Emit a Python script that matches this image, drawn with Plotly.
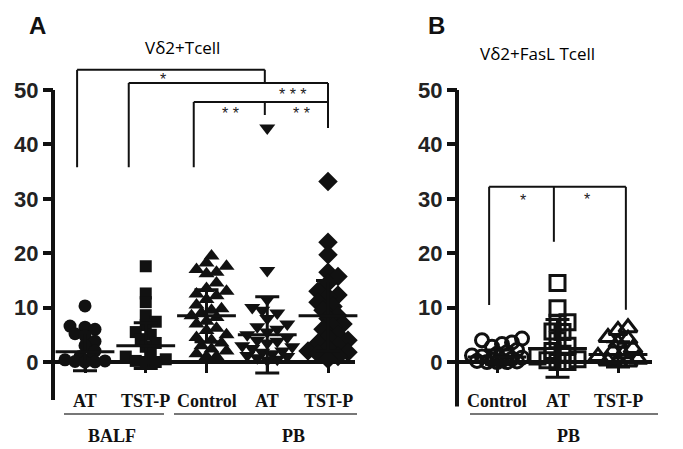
import numpy as np
import plotly.graph_objects as go

W, H = 683, 449

# ---------------- data ----------------
cats_a = ["AT", "TST-P", "Control", "AT", "TST-P"]
cats_b = ["Control", "AT", "TST-P"]
group_labels_a = ["BALF", "PB"]
group_labels_b = ["PB"]

a_balf_at = [10.3, 6.6, 6.4, 6.0, 5.2, 4.8, 3.8, 3.0, 2.0, 1.0, 0.6, 0.4, 0.2, 0.1, 0.0, 0.0]
a_balf_tstp = [17.6, 12.6, 11.0, 8.6, 7.4, 6.8, 5.5, 5.0, 4.2, 3.5, 2.8, 1.5, 1.0, 0.5, 0.2, 0.0, 0.0]
a_pb_control = [19.5, 18.2, 17.6, 17.0, 16.5, 16.2, 14.5, 13.5, 13.0, 12.5, 12.2, 11.5, 10.5, 9.8,
                9.5, 9.0, 8.5, 8.2, 7.5, 7.0, 6.2, 5.8, 5.0, 4.5, 4.0, 3.5, 3.0, 2.4, 2.0, 1.5, 1.0, 1.0]
a_pb_at = [43.0, 16.8, 11.5, 10.0, 9.5, 9.0, 8.0, 7.0, 6.5, 6.0, 5.5, 5.0, 4.5, 4.0, 3.8, 3.5,
           3.0, 2.8, 2.5, 2.0, 1.8, 1.5, 1.2, 1.0, 0.8, 0.5, 0.3]
a_pb_tstp = [33.2, 22.0, 19.7, 16.5, 15.7, 14.5, 13.0, 12.3, 12.0, 11.0, 10.2, 9.5, 8.5, 8.0, 7.0,
             6.5, 6.0, 5.0, 4.5, 4.0, 3.5, 3.0, 2.5, 2.0, 1.8, 1.5, 1.0, 0.5]
a_means = [1.9, 3.0, 8.5, 5.0, 8.5]
a_sds = [3.5, 4.2, 4.8, 7.0, 6.5]

b_control = [4.3, 4.0, 3.6, 3.3, 2.8, 2.2, 1.8, 1.5, 1.2, 1.0, 0.8, 0.6, 0.4, 0.3, 0.2, 0.1, 0.0, 0.0, 0.0]
b_at = [14.5, 9.9, 7.3, 7.2, 5.6, 5.5, 4.0, 3.0, 2.0, 1.5, 1.0, 0.5, 0.3, 0.0, 0.0]
b_tstp = [6.3, 5.8, 4.5, 4.2, 3.5, 2.5, 2.0, 1.5, 1.0, 0.5, 0.2, 0.0, 0.0]
b_means = [0.9, 2.5, 1.4]
b_sds = [1.3, 5.3, 2.3]

y_ticks = [0, 10, 20, 30, 40, 50]

# significance brackets: (x_left, x_right, height, left_leg_bottom, right_leg_bottom)
brackets_a = [(-0.13, 2.96, 53.7, 35.8, 51.3),
              (0.72, 4.0, 51.3, 35.8, 43.0),
              (1.79, 4.0, 47.8, 35.8, 43.0)]
mid_legs_a = [(2.96, 47.8, 45.4)]
# (label, x, y, vertical anchor)
stars_a = [("*", 1.28, 51.9, "middle"), ("* * *", 3.43, 47.4, "bottom"),
           ("* *", 2.40, 47.4, "top"), ("* *", 3.57, 47.4, "top")]

brackets_b = [(-0.13, 2.13, 32.2, 10.5, 9.6)]
mid_legs_b = [(0.94, 32.2, 22.1)]
stars_b = [("*", 0.43, 29.6, "middle"), ("*", 1.49, 29.8, "middle")]

# ---------------- layout constants (pixels) ----------------
Y0_PX, Y50_PX = 362.0, 90.0
PX_PER_Y = (Y0_PX - Y50_PX) / 50.0
y_lo = -(H - Y0_PX) / PX_PER_Y
y_hi = Y0_PX / PX_PER_Y

A_C0, A_STEP, A_AXIS, A_END = 85.0, 60.75, 53.0, 355.0
B_C0, B_STEP, B_AXIS, B_END = 497.0, 60.5, 457.0, 652.0
SPLIT = 0.6


def xa(px):
    return (px - A_C0) / A_STEP


def xb(px):
    return (px - B_C0) / B_STEP


def swarm(values, step_x, min_d=8.5, step_px=5.0, kmax=5):
    """Simple beeswarm offsets (in category units) so markers do not pile up."""
    placed = []
    offs = [0.0] * len(values)
    order = np.argsort(values)
    for idx in order:
        vy = values[idx] * PX_PER_Y
        best, best_d, done = 0.0, -1.0, False
        for k in range(0, kmax + 1):
            for sgn in ([1] if k == 0 else [1, -1]):
                ox = sgn * k * step_px
                d = min([np.hypot(ox - px, vy - py) for px, py in placed] or [1e9])
                if d >= min_d:
                    best, done = ox, True
                    break
                if d > best_d:
                    best_d, best = d, ox
            if done:
                break
        placed.append((best, vy))
        offs[idx] = best / step_x
    return offs


fig = go.Figure()

# ---------------- panel A ----------------
a_series = [a_balf_at, a_balf_tstp, a_pb_control, a_pb_at, a_pb_tstp]
a_symbols = ["circle", "square", "triangle-up", "triangle-down", "diamond"]
a_sizes = [13, 12, 14, 14, 15]
for i, vals in enumerate(a_series):
    offs = swarm(vals, A_STEP)
    fig.add_trace(go.Scatter(
        x=[i + o for o in offs], y=vals, mode="markers", xaxis="x", yaxis="y",
        marker=dict(symbol=a_symbols[i], size=a_sizes[i], color="#111111",
                    line=dict(width=0)),
        showlegend=False, hoverinfo="skip"))
fig.add_trace(go.Scatter(
    x=list(range(len(cats_a))), y=a_means, mode="markers", xaxis="x", yaxis="y",
    marker=dict(symbol="line-ew", size=42, color="#111111", line=dict(width=3, color="#111111")),
    error_y=dict(type="data", array=a_sds, width=12, thickness=3, color="#111111"),
    showlegend=False, hoverinfo="skip"))

# ---------------- panel B ----------------
b_series = [b_control, b_at, b_tstp]
b_symbols = ["circle-open", "square-open", "triangle-up-open"]
b_sizes = [13, 15, 16]
for i, vals in enumerate(b_series):
    offs = swarm(vals, B_STEP)
    fig.add_trace(go.Scatter(
        x=[i + o for o in offs], y=vals, mode="markers", xaxis="x2", yaxis="y2",
        marker=dict(symbol=b_symbols[i], size=b_sizes[i], color="#111111",
                    line=dict(width=3, color="#111111")),
        showlegend=False, hoverinfo="skip"))
fig.add_trace(go.Scatter(
    x=list(range(len(cats_b))), y=b_means, mode="markers", xaxis="x2", yaxis="y2",
    marker=dict(symbol="line-ew", size=42, color="#111111", line=dict(width=3, color="#111111")),
    error_y=dict(type="data", array=b_sds, width=12, thickness=3, color="#111111"),
    showlegend=False, hoverinfo="skip"))

shapes = []
annotations = []


def line(xref, yref, x0, y0, x1, y1, w, color="#111111"):
    shapes.append(dict(type="line", xref=xref, yref=yref, x0=x0, y0=y0, x1=x1, y1=y1,
                       line=dict(width=w, color=color), layer="above"))


def text(t, x, y, xref, yref, font, yanchor="middle"):
    annotations.append(dict(text=t, x=x, y=y, xref=xref, yref=yref, showarrow=False,
                            xanchor="center", yanchor=yanchor, font=font, borderpad=0))


# axes lines
line("x", "y", xa(A_AXIS), -7.0, xa(A_AXIS), 50, 4)
line("x", "y", xa(A_AXIS), 0, xa(A_END), 0, 4)
line("x2", "y2", xb(B_AXIS), -8.2, xb(B_AXIS), 50, 4)
line("x2", "y2", xb(B_AXIS), 0, xb(B_END), 0, 4)

# brackets
for (xl, xr, h, lb, rb) in brackets_a:
    line("x", "y", xl, h, xr, h, 2)
    line("x", "y", xl, h, xl, lb, 2)
    line("x", "y", xr, h, xr, rb, 2)
for (xm, top, bot) in mid_legs_a:
    line("x", "y", xm, top, xm, bot, 2)
for (xl, xr, h, lb, rb) in brackets_b:
    line("x2", "y2", xl, h, xr, h, 2)
    line("x2", "y2", xl, h, xl, lb, 2)
    line("x2", "y2", xr, h, xr, rb, 2)
for (xm, top, bot) in mid_legs_b:
    line("x2", "y2", xm, top, xm, bot, 2)

star_font = dict(family="Liberation Sans, Arial", size=16, color="#222222")
for t, x, y, va in stars_a:
    text(t, x, y, "x", "y", star_font, va)
for t, x, y, va in stars_b:
    text(t, x, y, "x2", "y2", star_font, va)

# category labels and group labels
cat_font = dict(family="Liberation Serif, Times New Roman", size=18, color="#111111", weight="bold")
cat_y = (Y0_PX - 401) / PX_PER_Y
grp_y = (Y0_PX - 436) / PX_PER_Y
under_y = (Y0_PX - 414) / PX_PER_Y
for i, c in enumerate(cats_a):
    text(c, i, cat_y, "x", "y", cat_font)
for i, c in enumerate(cats_b):
    text(c, i, cat_y, "x2", "y2", cat_font)

line("x", "y", xa(64), under_y, xa(164), under_y, 2, "#777777")
line("x", "y", xa(174), under_y, xa(357), under_y, 2, "#777777")
line("x2", "y2", xb(470), under_y, xb(658), under_y, 2, "#777777")
text(group_labels_a[0], xa(112), grp_y, "x", "y", cat_font)
text(group_labels_a[1], xa(293), grp_y, "x", "y", cat_font)
text(group_labels_b[0], xb(568), grp_y, "x2", "y2", cat_font)

# panel letters and titles
letter_font = dict(family="Liberation Sans, Arial", size=24, color="#111111", weight="bold")
title_font = dict(family="Open Sans, Liberation Sans", size=17, color="#000000")
text("A", 37 / W, 1 - 25 / H, "paper", "paper", letter_font)
text("B", 436 / W, 1 - 25 / H, "paper", "paper", letter_font)
text("V\u03b42+Tcell", 182 / W, 1 - 48 / H, "paper", "paper", title_font)
text("V\u03b42+FasL Tcell", 537 / W, 1 - 53 / H, "paper", "paper", title_font)

tick_font = dict(family="Liberation Sans, Arial", size=22, color="#222222", weight="bold")

fig.update_layout(
    width=W, height=H, margin=dict(l=0, r=0, t=0, b=0),
    paper_bgcolor="white", plot_bgcolor="white",
    shapes=shapes, annotations=annotations,
    xaxis=dict(domain=[0, SPLIT], range=[xa(0), xa(SPLIT * W)], anchor="free",
               position=1 - Y0_PX / H, tickvals=list(range(len(cats_a))), ticks="outside",
               ticklen=10, tickwidth=3, tickcolor="#111111", showticklabels=False,
               showgrid=False, zeroline=False, showline=False),
    yaxis=dict(domain=[0, 1], range=[y_lo, y_hi], anchor="free", position=A_AXIS / W,
               tickvals=y_ticks, ticks="outside", ticklen=10, tickwidth=4, tickcolor="#111111",
               tickfont=tick_font, showgrid=False, zeroline=False, showline=False),
    xaxis2=dict(domain=[SPLIT, 1], range=[xb(SPLIT * W), xb(W)], anchor="free",
                position=1 - Y0_PX / H, tickvals=list(range(len(cats_b))), ticks="outside",
                ticklen=10, tickwidth=3, tickcolor="#111111", showticklabels=False,
                showgrid=False, zeroline=False, showline=False),
    yaxis2=dict(domain=[0, 1], range=[y_lo, y_hi], anchor="free", position=B_AXIS / W,
                tickvals=y_ticks, ticks="outside", ticklen=10, tickwidth=4, tickcolor="#111111",
                tickfont=tick_font, showgrid=False, zeroline=False, showline=False),
)

fig.write_html("out.html", config={"displayModeBar": False},
               post_script="document.body.style.margin='0';")
